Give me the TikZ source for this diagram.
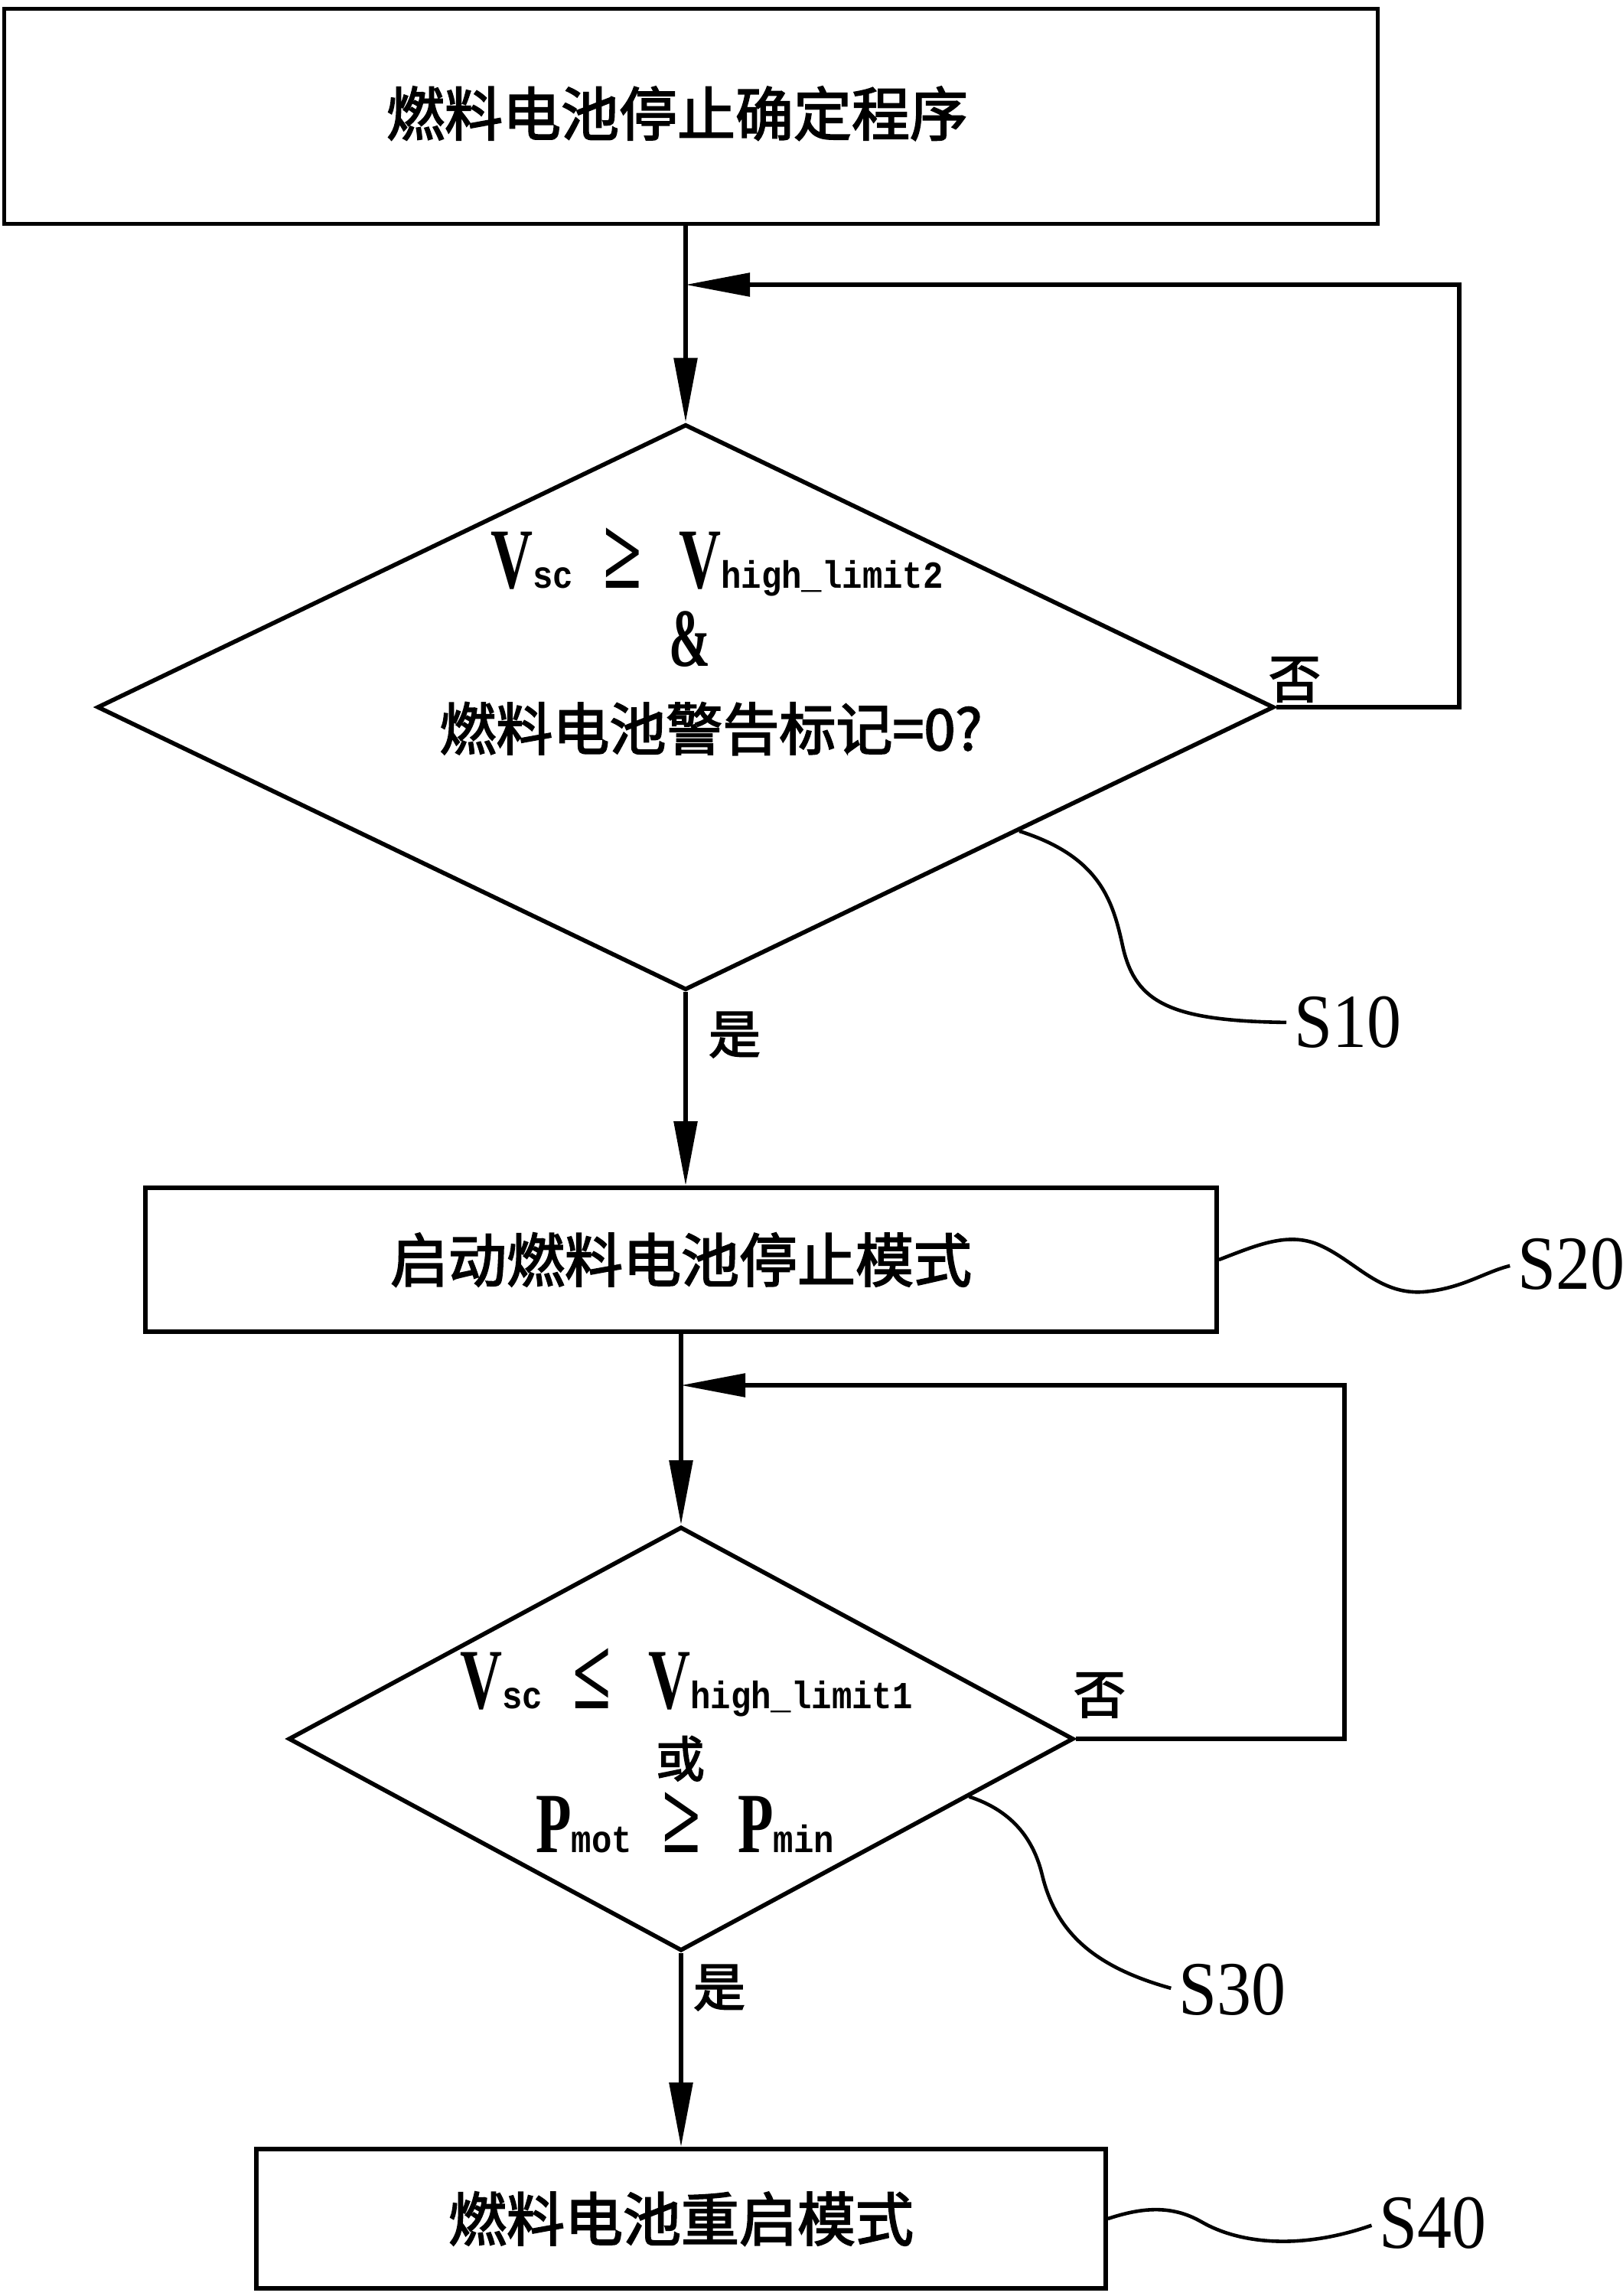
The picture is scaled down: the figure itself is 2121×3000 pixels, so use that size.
\documentclass[tikz,border=0pt]{standalone}
\usepackage{fontspec}
\usepackage{graphicx}
\usetikzlibrary{shapes.geometric,arrows.meta,calc}
\newfontfamily\cjk{Noto Sans CJK SC}[FakeBold=2.5]
\newfontfamily\lserif{Liberation Serif}
\newfontfamily\lmono{Liberation Mono}
\newcommand{\bigch}[1]{\scalebox{0.68}[1]{\lserif\bfseries\fontsize{28}{28}\selectfont #1}}
\newcommand{\smallch}[1]{\scalebox{0.88}[1]{\lmono\bfseries\fontsize{12.5}{12.5}\selectfont #1}}
\newcommand{\relsym}[1]{\scalebox{0.85}[1.2]{\lserif\bfseries\fontsize{27}{27}\selectfont #1}}
\newcommand{\steplbl}[1]{\scalebox{0.9}[1]{\lserif\fontsize{25}{25}\selectfont #1}}

\begin{document}
\begin{tikzpicture}[x=0.25pt,y=-0.25pt,line width=1.4pt,
    box/.style={draw,rectangle,inner sep=0pt,font=\cjk\fontsize{19}{19}\selectfont},
    decision/.style={draw,diamond,inner sep=0pt},
    cond/.style={anchor=base,inner sep=0pt},
    flow/.style={-{Triangle[length=21pt,width=7.5pt]}},
    lead/.style={line width=1.15pt,shorten >=2pt},
    yesno/.style={inner sep=0pt,font=\cjk\fontsize{17}{17}\selectfont},
    steptag/.style={anchor=west,inner sep=0pt}]
  \useasboundingbox (0,0) rectangle (2121,3000);

  % boxes and decisions
  \node[box,minimum width=448.75pt,minimum height=70.25pt] (start) at (903,152) {\raisebox{3.5pt}{燃料电池停止确定程序}\kern9pt};
  \node[decision,minimum width=384.5pt,minimum height=184.75pt] (s10) at (896,924) {};
  \node[cond] (c1a) at (937,768) {\bigch{V}\smallch{sc}\hspace{10pt}\relsym{≥}\hspace{12pt}\bigch{V}\smallch{high\_limit2}};
  \node[cond] (c1b) at (901,870) {\scalebox{0.6}[1]{\lserif\bfseries\fontsize{27}{27}\selectfont\&}};
  \node[cond,font=\cjk\fontsize{18.5}{18.5}\selectfont] (c1c) at (929,980) {燃料电池警告标记=0?};
  \node[box,minimum width=350pt,minimum height=47pt] (s20) at (890,1646) {启动燃料电池停止模式};
  \node[decision,minimum width=256.5pt,minimum height=138.5pt] (s30) at (890,2272) {};
  \node[cond] (c2a) at (897,2232) {\bigch{V}\smallch{sc}\hspace{10pt}\relsym{≤}\hspace{12pt}\bigch{V}\smallch{high\_limit1}};
  \node[cond,font=\cjk\fontsize{16}{16}\selectfont] (c2b) at (889,2322) {或};
  \node[cond] (c2c) at (895,2420) {\bigch{P}\smallch{mot}\hspace{10pt}\relsym{≥}\hspace{12pt}\bigch{P}\smallch{min}};
  \node[box,minimum width=277.5pt,minimum height=45.5pt] (s40) at (890,2899) {燃料电池重启模式};

  % yes / no
  \node[yesno] (no1) at (1692,888) {否};
  \node[yesno] (yes1) at (960,1352) {是};
  \node[yesno] (no2) at (1437,2215) {否};
  \node[yesno] (yes2) at (940,2597) {是};

  % step tags
  \node[steptag] (t10) at (1689,1336) {\steplbl{S10}};
  \node[steptag] (t20) at (1981,1652) {\steplbl{S20}};
  \node[steptag] (t30) at (1538,2600) {\steplbl{S30}};
  \node[steptag] (t40) at (1800,2905) {\steplbl{S40}};

  \coordinate (j1) at (896,372);
  \coordinate (r1) at (1907,372);
  \coordinate (j2) at (890,1810);
  \coordinate (r2) at (1757,1810);

  % flow
  \draw[flow] (s10.north |- start.south) -- (s10.north);
  \draw[flow] (s10.east) -| (r1) -- (j1);
  \draw[flow] (s10.south) -- (s10.south |- s20.north);
  \draw[flow] (s20.south) -- (s30.north);
  \draw[flow] (s30.east) -| (r2) -- (j2);
  \draw[flow] (s30.south) -- (s40.north);

  % leaders
  \draw[lead] ($(s10.east)!0.435!(s10.south)$) .. controls (1440,1120) and (1455,1180) .. (1468,1240)
    .. controls (1485,1310) and (1530,1334) .. (t10.west);
  \draw[lead] (s20.east) .. controls (1640,1628) and (1680,1610) .. (1720,1625)
    .. controls (1770,1645) and (1800,1692) .. (1860,1688)
    .. controls (1910,1684) and (1940,1662) .. (t20.west);
  \draw[lead] ($(s30.east)!0.27!(s30.south)$) .. controls (1320,2365) and (1350,2400) .. (1362,2450)
    .. controls (1380,2525) and (1430,2570) .. (t30.west);
  \draw[lead] (s40.east) .. controls (1490,2885) and (1530,2880) .. (1570,2903)
    .. controls (1620,2932) and (1700,2940) .. (t40.west);
\end{tikzpicture}
\end{document}
